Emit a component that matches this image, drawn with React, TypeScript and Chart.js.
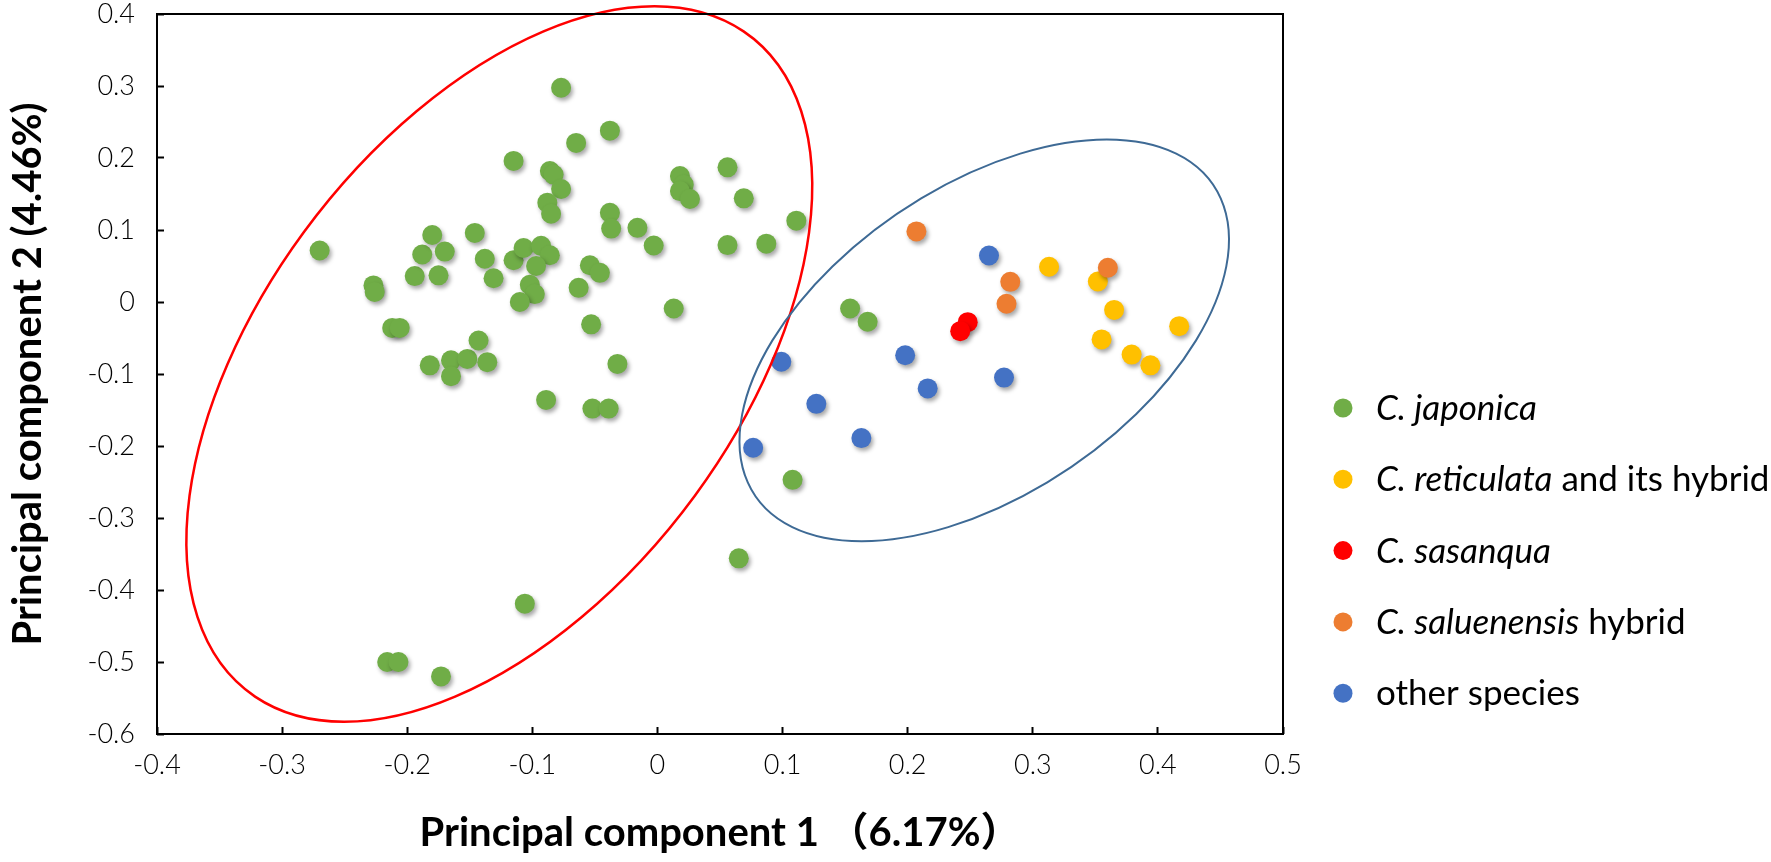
import React, { useEffect, useRef } from 'react';
import { Chart, registerables } from 'chart.js';

Chart.register(...registerables);

// ---------- data ----------
const japonica: [number, number][] = [
  [-0.270, 0.0715], [-0.227, 0.023], [-0.226, 0.014], [-0.212, -0.036], [-0.206, -0.036],
  [-0.194, 0.036], [-0.188, 0.066], [-0.180, 0.093], [-0.175, 0.037], [-0.170, 0.070],
  [-0.182, -0.088], [-0.165, -0.081], [-0.165, -0.103], [-0.152, -0.079], [-0.143, -0.0535],
  [-0.136, -0.0836], [-0.146, 0.096], [-0.138, 0.060], [-0.131, 0.033], [-0.115, 0.196],
  [-0.115, 0.058], [-0.107, 0.075], [-0.093, 0.078], [-0.086, 0.065], [-0.097, 0.050],
  [-0.102, 0.024], [-0.098, 0.011], [-0.110, 0.000], [-0.077, 0.2975], [-0.038, 0.238],
  [-0.065, 0.221], [-0.086, 0.182], [-0.083, 0.177], [-0.077, 0.157], [-0.088, 0.138],
  [-0.085, 0.1225], [-0.038, 0.124], [-0.037, 0.102], [-0.016, 0.103], [-0.003, 0.0785],
  [0.018, 0.175], [0.021, 0.163], [0.018, 0.154], [0.026, 0.143], [0.056, 0.187],
  [0.069, 0.144], [0.056, 0.079], [-0.054, 0.051], [-0.046, 0.0405], [-0.063, 0.0197],
  [-0.053, -0.031], [-0.032, -0.086], [0.013, -0.009], [-0.089, -0.136], [-0.052, -0.148],
  [-0.039, -0.148], [0.111, 0.113], [0.087, 0.081], [0.154, -0.009], [0.168, -0.0275],
  [0.108, -0.247], [0.065, -0.356], [-0.106, -0.419], [-0.216, -0.500], [-0.207, -0.500],
  [-0.173, -0.520],
];
const reticulata: [number, number][] = [
  [0.313, 0.049], [0.352, 0.0285], [0.365, -0.011], [0.417, -0.0336],
  [0.355, -0.052], [0.379, -0.073], [0.394, -0.088],
];
const sasanqua: [number, number][] = [
  [0.248, -0.028], [0.242, -0.0405],
];
const saluenensis: [number, number][] = [
  [0.207, 0.098], [0.282, 0.028], [0.279, -0.0025], [0.360, 0.0475],
];
const otherSpecies: [number, number][] = [
  [0.265, 0.0646], [0.099, -0.083], [0.127, -0.1414], [0.198, -0.074],
  [0.216, -0.120], [0.277, -0.105], [0.163, -0.189], [0.0765, -0.2025],
];

const seriesData = [japonica, reticulata, sasanqua, saluenensis, otherSpecies];
const seriesNames = ['C. japonica', 'C. reticulata and its hybrid', 'C. sasanqua', 'C. saluenensis hybrid', 'other species'];
const seriesColors = ['#70AD47', '#FFC000', '#FF0000', '#ED7D31', '#4472C4'];
// legend text split into italic part and regular part
const legendItalic = ['C. japonica', 'C. reticulata', 'C. sasanqua', 'C. saluenensis', ''];
const legendRegular = ['', ' and its hybrid', '', ' hybrid', 'other species'];

const xTicks = [-0.4, -0.3, -0.2, -0.1, 0, 0.1, 0.2, 0.3, 0.4, 0.5];
const yTicks = [-0.6, -0.5, -0.4, -0.3, -0.2, -0.1, 0, 0.1, 0.2, 0.3, 0.4];

const xTitle = 'Principal component 1 （6.17%）';
const yTitle = 'Principal component 2 (4.46%)';

// ellipses in data units: centre, conjugate half-diameters u and v
const redEllipse = { cx: -0.1264, cy: -0.0861, ux: 0.124, uy: 0.4969, vx: 0.2172, vy: 0 };
const blueEllipse = { cx: 0.2612, cy: -0.0533, ux: 0.098, uy: 0.279, vx: 0.1693, vy: 0 };

// ---------- styling ----------
const W = 1771;
const H = 862;
const TICK_FONT = 'Lato';
const TITLE_FONT = 'Lato';
const LEGEND_FONT = 'Lato';
const LEGEND_SIZE = 35;

const fmt = (v: number) => {
  const r = Math.round(v * 10) / 10;
  return (Object.is(r, -0) ? 0 : r).toString();
};

const shadowAndEllipses = {
  id: 'shadowAndEllipses',
  beforeDatasetsDraw(chart: any) {
    const ctx = chart.ctx;
    ctx.save();
    ctx.shadowColor = 'rgba(0,0,0,0.35)';
    ctx.shadowBlur = 4;
    ctx.shadowOffsetX = 2;
    ctx.shadowOffsetY = 3;
  },
  afterDatasetsDraw(chart: any) {
    const ctx = chart.ctx;
    ctx.restore();
    const { x, y } = chart.scales;
    const list = [
      { e: redEllipse, color: '#FF0000', width: 2.5 },
      { e: blueEllipse, color: '#3E6A95', width: 2 },
    ];
    for (const { e, color, width } of list) {
      const cx = x.getPixelForValue(e.cx);
      const cy = y.getPixelForValue(e.cy);
      const Ux = x.getPixelForValue(e.cx + e.ux) - cx;
      const Uy = y.getPixelForValue(e.cy + e.uy) - cy;
      const Vx = x.getPixelForValue(e.cx + e.vx) - cx;
      const Vy = y.getPixelForValue(e.cy + e.vy) - cy;
      ctx.save();
      const base = ctx.getTransform();
      ctx.beginPath();
      ctx.transform(Ux, Uy, Vx, Vy, cx, cy);
      ctx.arc(0, 0, 1, 0, Math.PI * 2);
      ctx.setTransform(base);
      ctx.strokeStyle = color;
      ctx.lineWidth = width;
      ctx.stroke();
      ctx.restore();
    }
  },
  afterDraw(chart: any) {
    const ctx = chart.ctx;
    const a = chart.chartArea;
    ctx.save();
    ctx.strokeStyle = '#000';
    ctx.lineWidth = 2;
    ctx.strokeRect(a.left, a.top, a.right - a.left, a.bottom - a.top);
    // legend
    const lx = a.right + 60;
    const ly0 = 408;
    const step = 71.3;
    for (let i = 0; i < seriesNames.length; i++) {
      const yy = ly0 + i * step;
      ctx.beginPath();
      ctx.fillStyle = seriesColors[i];
      ctx.arc(lx, yy, 9.5, 0, Math.PI * 2);
      ctx.fill();
      ctx.fillStyle = '#000';
      ctx.textBaseline = 'alphabetic';
      ctx.textAlign = 'left';
      let tx = lx + 33;
      if (legendItalic[i]) {
        ctx.font = `italic 400 ${LEGEND_SIZE}px ${LEGEND_FONT}`;
        ctx.fillText(legendItalic[i], tx, yy + 12);
        tx += ctx.measureText(legendItalic[i]).width;
      }
      if (legendRegular[i]) {
        ctx.font = `400 ${LEGEND_SIZE}px ${LEGEND_FONT}`;
        ctx.fillText(legendRegular[i], tx, yy + 12);
      }
    }
    ctx.restore();
  },
};

export default function App() {
  const ref = useRef<HTMLCanvasElement>(null);
  useEffect(() => {
    document.body.style.margin = '0';
    const canvas = ref.current!;
    const chart = new Chart(canvas, {
      type: 'scatter',
      data: {
        datasets: seriesData.map((d, i) => ({
          label: seriesNames[i],
          data: d.map(([x, y]) => ({ x, y })),
          backgroundColor: seriesColors[i],
          borderWidth: 0,
          pointRadius: 10,
          pointHoverRadius: 10,
          order: seriesData.length - i,
        })),
      },
      options: {
        animation: false,
        responsive: false,
        events: [],
        layout: { padding: { left: 0, top: 14, right: 488, bottom: 0 }, autoPadding: false },
        plugins: { legend: { display: false }, tooltip: { enabled: false } },
        scales: {
          x: {
            type: 'linear',
            min: xTicks[0],
            max: xTicks[xTicks.length - 1],
            afterBuildTicks: (s: any) => { s.ticks = xTicks.map((v) => ({ value: v })); },
            afterFit: (s: any) => {
              s.height = H - 734;
              s.paddingLeft = 0; s.paddingRight = 0; s.paddingTop = 0; s.paddingBottom = 0;
            },
            border: { display: false },
            grid: { drawOnChartArea: false, drawTicks: true, tickLength: -7, tickWidth: 2, tickColor: '#000' },
            ticks: {
              padding: 22,
              color: '#000',
              font: { family: TICK_FONT, size: 27, weight: 300 as any },
              callback: (v: any) => fmt(Number(v)),
            },
            title: {
              display: true,
              text: xTitle,
              color: '#000',
              font: { family: `${TITLE_FONT}, "Noto Sans CJK SC"`, size: 40, weight: 'bold' },
              padding: { top: 0, bottom: 5 },
            },
          },
          y: {
            type: 'linear',
            min: yTicks[0],
            max: yTicks[yTicks.length - 1],
            afterBuildTicks: (s: any) => { s.ticks = yTicks.map((v) => ({ value: v })); },
            afterFit: (s: any) => {
              s.width = 157;
              s.paddingLeft = 0; s.paddingRight = 0; s.paddingTop = 0; s.paddingBottom = 0;
            },
            border: { display: false },
            grid: { drawOnChartArea: false, drawTicks: true, tickLength: -7, tickWidth: 2, tickColor: '#000' },
            ticks: {
              padding: 29,
              color: '#000',
              font: { family: TICK_FONT, size: 27, weight: 300 as any },
              callback: (v: any) => fmt(Number(v)),
            },
            title: {
              display: true,
              text: yTitle,
              color: '#000',
              font: { family: TITLE_FONT, size: 40, weight: 'bold' },
              padding: { top: 4, bottom: 0 },
            },
          },
        },
      },
      plugins: [shadowAndEllipses],
    });
    return () => chart.destroy();
  }, []);
  return (
    <div style={{ width: W, height: H, background: '#fff' }}>
      <canvas ref={ref} width={W} height={H} style={{ display: 'block' }} />
    </div>
  );
}
